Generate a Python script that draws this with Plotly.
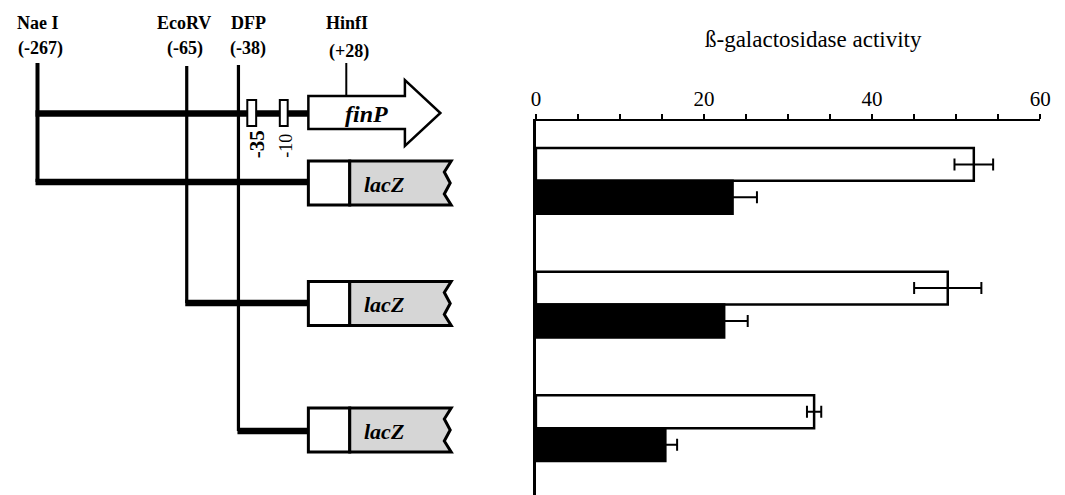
import plotly.graph_objects as go

# ---------------- data ----------------
constructs = ["Nae I - HinfI", "EcoRV - HinfI", "DFP - HinfI"]
construct_pos = [0, 1, 2]
white_vals = [52.1, 49.0, 33.1]
white_err = [2.3, 4.0, 0.85]
black_vals = [23.4, 22.4, 15.4]
black_err = [2.9, 2.8, 1.4]
x_ticks = [0, 20, 40, 60]
x_ticklabels = ["0", "20", "40", "60"]

site_names = ["Nae I", "EcoRV", "DFP", "HinfI"]
site_coords = ["(-267)", "(-65)", "(-38)", "(+28)"]

W, H = 1065, 495
SERIF = "Liberation Serif, Times New Roman, serif"

fig = go.Figure()
fig.add_trace(go.Bar(
    y=construct_pos, x=white_vals, orientation="h", name="white",
    marker=dict(color="white", line=dict(color="black", width=2.5)),
    error_x=dict(type="data", array=white_err, color="black", thickness=2, width=6),
    showlegend=False, hoverinfo="x",
))
fig.add_trace(go.Bar(
    y=construct_pos, x=black_vals, orientation="h", name="black",
    marker=dict(color="black", line=dict(color="black", width=2.5)),
    error_x=dict(type="data", array=black_err, color="black", thickness=2, width=6),
    showlegend=False, hoverinfo="x",
))

# ---------------- schematic (pixel-coordinate overlay axes) ----------------
shapes = []
annos = []

def line(x0, y0, x1, y1, w):
    shapes.append(dict(type="line", xref="x2", yref="y2", x0=x0, y0=y0, x1=x1, y1=y1,
                       line=dict(color="black", width=w)))

def rect(x0, y0, x1, y1, fill, w):
    shapes.append(dict(type="rect", xref="x2", yref="y2", x0=x0, y0=y0, x1=x1, y1=y1,
                       fillcolor=fill, line=dict(color="black", width=w)))

def path(d, fill, w):
    shapes.append(dict(type="path", xref="x2", yref="y2", path=d,
                       fillcolor=fill, line=dict(color="black", width=w)))

def text(x, y, s, size, angle=0):
    annos.append(dict(xref="x2", yref="y2", x=x, y=y, text=s, showarrow=False,
                      xanchor="center", yanchor="middle", textangle=angle,
                      font=dict(family=SERIF, size=size, color="black")))

site_x = [34, 182, 247, 347]
coord_x = [36, 183, 247, 349]
for nm, cx, cd, ccx in zip(site_names, site_x, site_coords, coord_x):
    text(cx, 23, "<b>%s</b>" % nm, 18)
    text(ccx, 48 if nm != "HinfI" else 51, "<b>%s</b>" % cd, 18)

# vertical site lines
line(33, 63, 33, 182, 4)
line(184.5, 66, 184.5, 303, 3.2)
line(237, 65, 237, 431, 3.2)
line(346.5, 63, 346.5, 97, 2)

# horizontal DNA lines
line(31, 113.5, 308, 113.5, 6.5)
line(31, 182, 308, 182, 6.5)
line(183, 303, 308, 303, 6.5)
line(236, 431, 308, 431, 6.5)

# promoter boxes
rect(246, 100, 255, 126, "white", 2)
rect(279, 100, 287, 126, "white", 2)
text(256, 144, "<b>-35</b>", 21, -90)
text(285, 146, "-10", 18, -90)

# finP arrow
path("M 308,96 L 406,96 L 406,80 L 442,113 L 406,146 L 406,129 L 308,129 Z", "white", 2.5)
text(367, 114, "<b><i>finP</i></b>", 24)

# lacZ fusions
for c in [183, 303.5, 430]:
    rect(308, c - 22, 350, c + 22, "white", 3)
    path("M 350,%g L 453,%g L 446,%g L 452,%g L 446,%g L 453,%g L 350,%g Z" % (
        c - 22, c - 22, c - 11, c, c + 11, c + 22, c + 22), "#d6d6d6", 3)
    text(385, c + 1, "<b><i>lacZ</i></b>", 22)

# chart title
annos.append(dict(xref="paper", yref="paper", x=821 / W, y=1 - 40 / H,
                  text="ß-galactosidase activity", showarrow=False,
                  xanchor="center", yanchor="middle",
                  font=dict(family=SERIF, size=23, color="black")))

fig.update_layout(
    width=W, height=H,
    margin=dict(l=0, r=0, t=0, b=0),
    paper_bgcolor="white", plot_bgcolor="rgba(0,0,0,0)",
    barmode="group", bargap=0.468, bargroupgap=0,
    font=dict(family=SERIF, color="black"),
    xaxis=dict(domain=[539 / W, 1051 / W], range=[0, 60], side="top", anchor="y",
               showline=True, linewidth=2, linecolor="black", mirror=False,
               tickmode="array", tickvals=x_ticks, ticktext=x_ticklabels,
               ticks="outside", ticklen=5, tickwidth=2, tickcolor="black",
               minor=dict(dtick=5, tick0=0, ticks="outside", ticklen=5, tickwidth=2,
                          tickcolor="black", showgrid=False),
               tickfont=dict(family=SERIF, size=21, color="black"),
               ticklabeloverflow="allow",
               showgrid=False, zeroline=False, fixedrange=True),
    yaxis=dict(domain=[0, (H - 121) / H], range=[2.54, -0.484], anchor="x",
               showline=True, linewidth=3, linecolor="black",
               tickvals=construct_pos, ticktext=constructs, showticklabels=False,
               ticks="", showgrid=False, zeroline=False, fixedrange=True),
    xaxis2=dict(domain=[0, 1], range=[0, W], anchor="y2", visible=False, fixedrange=True),
    yaxis2=dict(domain=[0, 1], range=[H, 0], anchor="x2", visible=False, fixedrange=True),
    shapes=shapes,
    annotations=annos,
)

fig.write_html(
    "out.html",
    config={"displayModeBar": False},
    post_script="document.body.style.margin='0';document.body.style.padding='0';"
                "document.documentElement.style.overflow='hidden';",
)
